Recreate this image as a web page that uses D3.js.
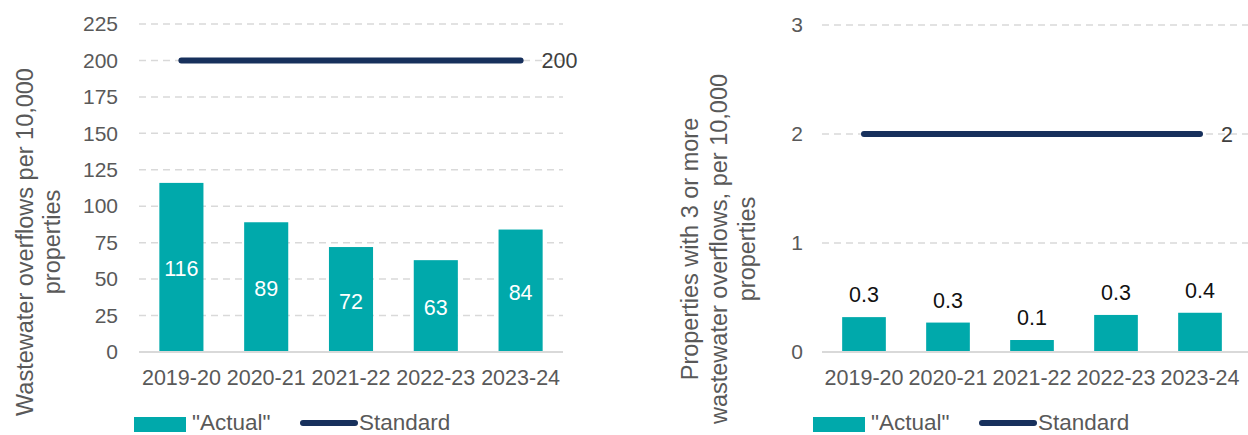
<!DOCTYPE html>
<html>
<head>
<meta charset="utf-8">
<script src="https://cdn.jsdelivr.net/npm/d3@7/dist/d3.min.js"></script>
<style>
  body { margin: 0; background: #fff; }
  svg { display: block; font-family: "Liberation Sans", Arial, sans-serif; }
  .tick text { fill: #595959; }
</style>
</head>
<body>
<svg width="1248" height="435"></svg>
<script>
// data
var years = ["2019-20", "2020-21", "2021-22", "2022-23", "2023-24"];
var overflowActual = [116, 89, 72, 63, 84];
var overflowStandard = 200;
var overflowTicks = [0, 25, 50, 75, 100, 125, 150, 175, 200, 225];
var repeatActual = [0.32, 0.27, 0.11, 0.34, 0.36];
var repeatStandard = 2;
var repeatTicks = [0, 1, 2, 3];
var legendLabels = ["\"Actual\"", "Standard"];

var svg = d3.select("svg"),
    teal = "#00a9ab",
    navy = "#17305c",
    grid = "#d9d9d9",
    textGrey = "#595959";

function drawPanel(opts) {
    var g = svg.append("g");

    var x = d3.scaleBand()
        .domain(years)
        .range([opts.left, opts.right])
        .paddingInner(0.48)
        .paddingOuter(0.24);

    var y = d3.scaleLinear()
        .domain([0, opts.max])
        .range([352, opts.top]);

    // gridlines (dashed), zero line solid
    g.selectAll(".grid")
        .data(opts.ticks.filter(function(d) { return d > 0; }))
        .enter().append("line")
        .attr("class", "grid")
        .attr("x1", opts.left)
        .attr("x2", opts.gridEnd)
        .attr("y1", function(d) { return y(d); })
        .attr("y2", function(d) { return y(d); })
        .style("stroke", grid)
        .style("stroke-width", 1.5)
        .style("stroke-dasharray", "7,5");

    // y axis
    var yAxis = g.append("g")
        .attr("transform", "translate(" + opts.left + ",0)")
        .call(d3.axisLeft(y).tickValues(opts.ticks).tickSize(0).tickPadding(opts.tickPad).tickFormat(d3.format("d")));
    yAxis.select(".domain").remove();
    yAxis.selectAll("text").style("font-size", "21px");

    // bars
    g.selectAll(".bar")
        .data(opts.values)
        .enter().append("rect")
        .attr("class", "bar")
        .attr("x", function(d, i) { return x(years[i]); })
        .attr("width", x.bandwidth())
        .attr("y", function(d) { return y(d); })
        .attr("height", function(d) { return y(0) - y(d); })
        .style("fill", teal);

    g.append("line")
        .attr("x1", opts.left)
        .attr("x2", opts.gridEnd)
        .attr("y1", y(0))
        .attr("y2", y(0))
        .style("stroke", grid)
        .style("stroke-width", 2);

    // x axis
    var xAxis = g.append("g")
        .attr("transform", "translate(0," + y(0) + ")")
        .call(d3.axisBottom(x).tickSize(0).tickPadding(18));
    xAxis.select(".domain").remove();
    xAxis.selectAll("text").style("font-size", "21.5px");

    // data labels
    g.selectAll(".lbl")
        .data(opts.values)
        .enter().append("text")
        .attr("class", "lbl")
        .attr("x", function(d, i) { return x(years[i]) + x.bandwidth() / 2; })
        .attr("y", function(d) {
            return opts.inside ? (y(d) + y(0)) / 2 + 1.5 : y(d) - 15;
        })
        .attr("dy", opts.inside ? "0.35em" : 0)
        .attr("text-anchor", "middle")
        .style("font-size", "21.5px")
        .style("fill", opts.inside ? "#fff" : "#111")
        .text(function(d) { return opts.fmt(d); });

    // standard line
    var x0 = x(years[0]) + x.bandwidth() / 2,
        x1 = x(years[years.length - 1]) + x.bandwidth() / 2;
    g.append("line")
        .attr("x1", x0)
        .attr("x2", x1)
        .attr("y1", y(opts.standard))
        .attr("y2", y(opts.standard))
        .style("stroke", navy)
        .style("stroke-width", 6)
        .style("stroke-linecap", "round");
    g.append("text")
        .attr("x", x1 + 21)
        .attr("y", y(opts.standard))
        .attr("dy", "0.35em")
        .style("font-size", "21.5px")
        .style("fill", "#404040")
        .text(opts.standard);

    // y title (rotated)
    var title = g.append("text")
        .attr("transform", "rotate(-90)")
        .attr("text-anchor", "middle")
        .style("font-size", "23.5px")
        .style("fill", textGrey);
    opts.title.forEach(function(line, i) {
        title.append("tspan")
            .attr("x", -opts.titleY)
            .attr("y", opts.titleX[i])
            .text(line);
    });

    // legend
    var lg = g.append("g").attr("transform", "translate(" + opts.legendX + ",0)");
    lg.append("rect")
        .attr("x", 0)
        .attr("y", 417)
        .attr("width", 52)
        .attr("height", 15)
        .style("fill", teal);
    lg.append("text")
        .attr("x", 58)
        .attr("y", 429.5)
        .style("font-size", "22.5px")
        .style("fill", textGrey)
        .text(legendLabels[0]);
    lg.append("line")
        .attr("x1", 169)
        .attr("x2", 221)
        .attr("y1", 423)
        .attr("y2", 423)
        .style("stroke", navy)
        .style("stroke-width", 6)
        .style("stroke-linecap", "round");
    lg.append("text")
        .attr("x", 225)
        .attr("y", 429.5)
        .style("font-size", "22.5px")
        .style("fill", textGrey)
        .text(legendLabels[1]);
}

drawPanel({
    values: overflowActual,
    standard: overflowStandard,
    ticks: overflowTicks,
    max: 225,
    top: 24,
    left: 139,
    right: 563,
    gridEnd: 563,
    tickPad: 21,
    inside: true,
    fmt: d3.format("d"),
    title: ["Wastewater overflows per 10,000", "properties"],
    titleX: [33, 60],
    titleY: 242,
    legendX: 134
});

drawPanel({
    values: repeatActual,
    standard: repeatStandard,
    ticks: repeatTicks,
    max: 3,
    top: 25,
    left: 822,
    right: 1242,
    gridEnd: 1248,
    tickPad: 19,
    inside: false,
    fmt: d3.format(".1f"),
    title: ["Properties with 3 or more", "wastewater overflows, per 10,000", "properties"],
    titleX: [698, 727, 755],
    titleY: 249,
    legendX: 813
});
</script>
</body>
</html>
